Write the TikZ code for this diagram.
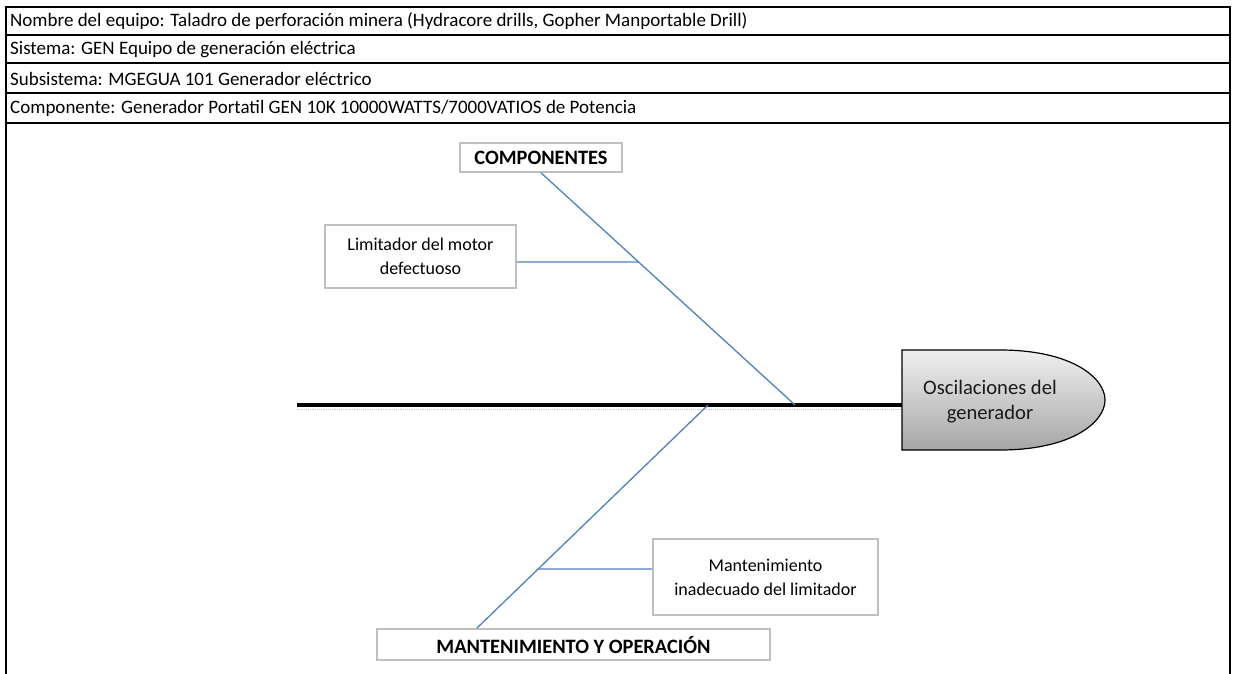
\documentclass[tikz,border=0pt]{standalone}
\usepackage{fontspec}
\setmainfont{Carlito}
\usepackage{tikz}
\usetikzlibrary{calc,positioning}
\definecolor{fishblue}{HTML}{4F81BD}
\definecolor{frame}{HTML}{BFBFBF}
\definecolor{ink}{HTML}{1A1A1A}
\tikzset{
  cbox/.style={draw=frame,line width=1.6pt,fill=white,align=center,inner sep=0pt,font=\fontsize{18}{24}\selectfont},
  catbox/.style={cbox,font=\fontsize{20.4}{24}\selectfont\bfseries},
  bone/.style={draw=fishblue,line width=1.3pt},
  spine/.style={draw=black,line width=4.5pt},
  rowtext/.style={anchor=west,inner sep=0pt,font=\fontsize{19}{20}\selectfont},
  grid/.style={draw=black,line width=1.6pt},
}
\begin{document}
\begin{tikzpicture}[x=1pt,y=-1pt]
\useasboundingbox (0,0) rectangle (1233,674);
\draw[grid] (6,674) -- (6,7) -- (1230,7) -- (1230,674);
\foreach \y in {35,63,93,123}{\draw[grid] (6,\y) -- (1230,\y);}
\foreach \i/\y/\t in {1/21/{Nombre del equipo: Taladro de perforación minera (Hydracore drills, Gopher Manportable Drill)},2/49.5/{Sistema: GEN Equipo de generación eléctrica},3/78.5/{Subsistema: MGEGUA 101 Generador eléctrico},4/108.5/{Componente: Generador Portatil GEN 10K 10000WATTS/7000VATIOS de Potencia}}{
  \node[rowtext] (row\i) at (10,\y) {\t};}
\node[catbox,minimum width=162pt,minimum height=29pt] (comp) at (541,157.5) {COMPONENTES};
\node[cbox,minimum width=191pt,minimum height=63pt] (limit) at (420.5,256.5) {Limitador del motor\\defectuoso};
\node[cbox,minimum width=225pt,minimum height=76pt] (mant) at (765.5,577) {Mantenimiento\\inadecuado del limitador};
\node[catbox,minimum width=393pt,minimum height=31pt] (mantop) at (573.5,644.5) {MANTENIMIENTO Y OPERACIÓN};
\coordinate (tail) at (297,405);
\coordinate (headin) at (902,405);
\coordinate (j1) at (795,405);
\coordinate (j2) at (708,405);
\coordinate (m0) at ($(mantop.north west)!0.255!(mantop.north east)$);
\draw[gray!45,line width=1.2pt,densely dotted] (297,409.5) -- (902,409.5);
\draw[spine] (tail) -- (headin);
\draw[black,line width=1.2pt,top color=black!6,bottom color=black!35] (902,350) -- (1000,350) .. controls (1072,350) and (1105,378) .. (1105,400) .. controls (1105,422) and (1072,450) .. (1000,450) -- (902,450) -- cycle;
\node[align=center,text=ink,font=\fontsize{20.6}{25}\selectfont] (head) at (990,402) {Oscilaciones del\\generador};
\draw[bone] (comp.south) -- (j1);
\draw[bone] ([yshift=-5.5pt]limit.east) -- (intersection cs: first line={(comp.south)--(j1)}, second line={([yshift=-5.5pt]limit.east)--([xshift=10pt,yshift=-5.5pt]limit.east)});
\draw[bone] (j2) -- (m0);
\draw[bone] ([yshift=8pt]mant.west) -- (intersection cs: first line={(j2)--(m0)}, second line={([yshift=8pt]mant.west)--([xshift=10pt,yshift=8pt]mant.west)});
\end{tikzpicture}
\end{document}
